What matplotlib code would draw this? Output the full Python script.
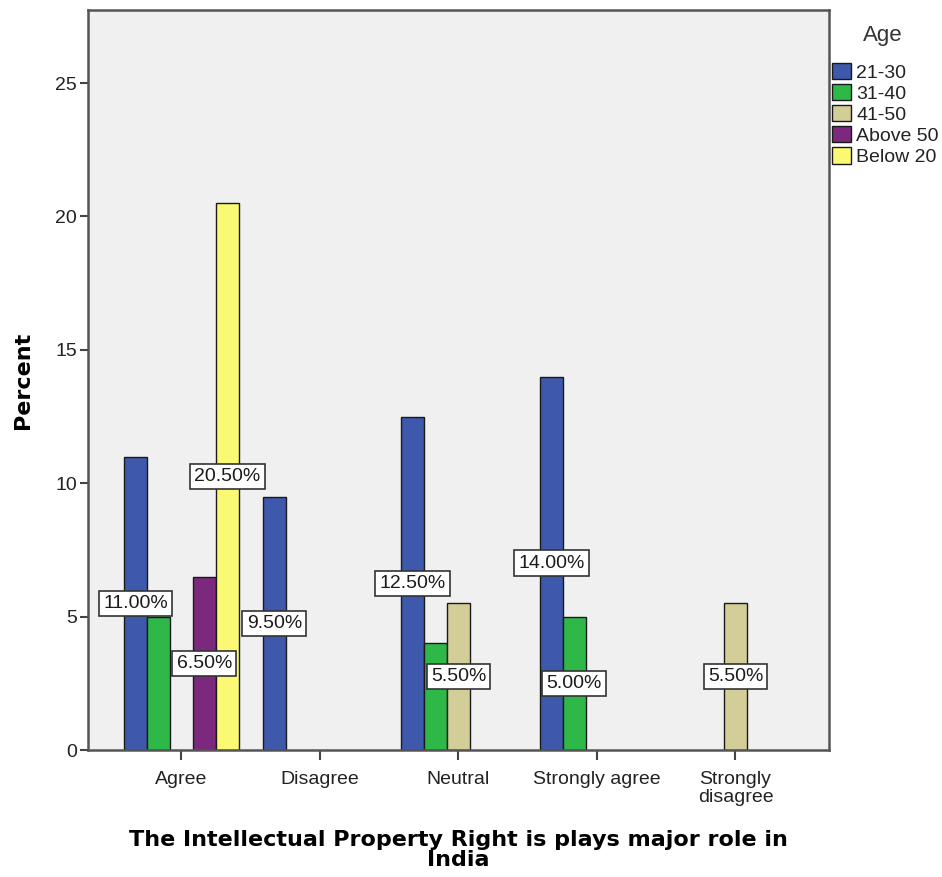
import numpy as np
import matplotlib
matplotlib.use("Agg")
import matplotlib.pyplot as plt

plt.rcParams['font.family'] = ['Liberation Sans', 'DejaVu Sans']

categories = ['Agree', 'Disagree', 'Neutral', 'Strongly agree', 'Strongly\ndisagree']
groups = ['21-30', '31-40', '41-50', 'Above 50', 'Below 20']
percent = {
    '21-30':    [11.0, 9.5, 12.5, 14.0, 0.0],
    '31-40':    [5.0, 0.0, 4.0, 5.0, 0.0],
    '41-50':    [0.0, 0.0, 5.5, 0.0, 5.5],
    'Above 50': [6.5, 0.0, 0.0, 0.0, 0.0],
    'Below 20': [20.5, 0.0, 0.0, 0.0, 0.0],
}
# labels SPSS kept after hiding the overlapping ones
show_label = {
    '21-30':    [True, True, True, True, False],
    '31-40':    [False, False, False, True, False],
    '41-50':    [False, False, True, False, True],
    'Above 50': [True, False, False, False, False],
    'Below 20': [True, False, False, False, False],
}
colors = ['#3E58AC', '#2EB848', '#D3CE97', '#7C287D', '#FBF873']

fig = plt.figure(figsize=(9.42, 8.77), dpi=100)
ax = fig.add_axes([0.0934, 0.1448, 0.7866, 0.8438])
ax.set_facecolor('#F0F0F0')

x = np.arange(len(categories))
w = 0.165
for i, g in enumerate(groups):
    vals = np.array(percent[g])
    xs = x + (i - 2) * w
    keep = vals > 0
    ax.bar(xs[keep], vals[keep], width=w, color=colors[i], edgecolor='#1a1a1a',
           linewidth=1.0, label=g, zorder=2)
    for xx, v, s in zip(xs, vals, show_label[g]):
        if s:
            ax.text(xx, v / 2, f'{v:.2f}%', ha='center', va='center', fontsize=14,
                    color='#1a1a1a', zorder=4,
                    bbox=dict(boxstyle='square,pad=0.22', fc='white', ec='#333333', lw=1.2))

ax.set_xlim(-0.675, 4.675)
ax.set_ylim(0, 27.74)
ax.set_yticks([0, 5, 10, 15, 20, 25])
ax.set_xticks(x)
ax.set_xticklabels(categories, fontsize=14, color='#222222', linespacing=1.1)
ax.tick_params(axis='y', labelsize=14, labelcolor='#222222', length=6, width=1.5,
               color='#444444', pad=2)
ax.tick_params(axis='x', length=7, width=1.5, color='#444444', pad=8)
for sp in ax.spines.values():
    sp.set_color('#555555')
    sp.set_linewidth(1.8)

ax.set_ylabel('Percent', fontsize=16, fontweight='bold', family='DejaVu Sans', labelpad=16)
ax.set_xlabel('The Intellectual Property Right is plays major role in\nIndia',
              fontsize=16, fontweight='bold', family='DejaVu Sans', linespacing=1.0, labelpad=17)

# legend title placed on its own, SPSS leaves a gap under it
fig.text(883 / 942, 1 - 35 / 877, 'Age', ha='center', va='center', fontsize=16, color='#333333')
leg = ax.legend(loc='upper left', bbox_to_anchor=(832 / 942, 1 - 63 / 877),
                bbox_transform=fig.transFigure, frameon=False,
                fontsize=14, handlelength=1.0, handleheight=0.9,
                handletextpad=0.25, labelspacing=0.12, borderaxespad=0.0, borderpad=0.0)
for t in leg.get_texts():
    t.set_color('#222222')

fig.savefig('out.png', dpi=100, facecolor='white')
